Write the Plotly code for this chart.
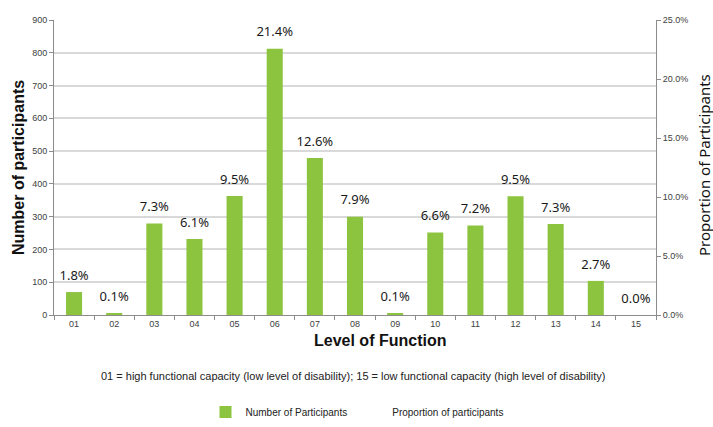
import plotly.graph_objects as go

levels = ["01", "02", "03", "04", "05", "06", "07", "08", "09", "10", "11", "12", "13", "14", "15"]
participants = [70, 4, 279, 232, 363, 812, 479, 300, 4, 252, 273, 362, 278, 104, 0]
proportion = [1.8, 0.1, 7.3, 6.1, 9.5, 21.4, 12.6, 7.9, 0.1, 6.6, 7.2, 9.5, 7.3, 2.7, 0.0]

bar_color = "#8CC43F"
grid_color = "#D9D9D9"
axis_color = "#8C8C8C"
tick_font = dict(family="Liberation Sans, Arial", size=9, color="#404040")

plot_l, plot_r, plot_t, plot_b = 54, 656, 20, 315
W, H = 713, 427


def px_to_paper(px, py):
    return (px - plot_l) / (plot_r - plot_l), (plot_b - py) / (plot_b - plot_t)


fig = go.Figure()
fig.add_trace(go.Bar(
    x=levels, y=participants, name="Number of Participants",
    marker=dict(color=bar_color, line=dict(width=0)),
    hoverinfo="x+y",
))
fig.add_trace(go.Scatter(
    x=levels, y=proportion, name="Proportion of participants",
    yaxis="y2", mode="lines",
    line=dict(color="rgba(0,0,0,0)", width=0),
    hoverinfo="skip",
))
# percentage labels above bars
fig.add_trace(go.Scatter(
    x=levels, y=participants, mode="markers+text",
    marker=dict(size=13, opacity=0, color=bar_color),
    text=[f"{p:.1f}%" for p in proportion],
    textposition="top center",
    textfont=dict(family="Noto Sans", size=13, color="#1a1a1a"),
    showlegend=False, hoverinfo="skip", cliponaxis=False,
))

fig.update_layout(
    width=W, height=H,
    margin=dict(l=plot_l, r=W - plot_r, t=plot_t, b=H - plot_b, autoexpand=False),
    plot_bgcolor="white", paper_bgcolor="white",
    bargap=0.6,
    showlegend=True,
    legend=dict(orientation="h", xanchor="center", yanchor="middle",
                font=dict(family="Liberation Sans, Arial", size=10, color="#222222"),
                itemwidth=30, traceorder="normal"),
    xaxis=dict(
        type="category", range=[-0.5, len(levels) - 0.5],
        tickson="boundaries", ticks="outside", ticklen=4,
        tickcolor=axis_color, showline=True, linecolor=axis_color, linewidth=1,
        showgrid=False, tickfont=tick_font, automargin=False,
    ),
    yaxis=dict(
        range=[0, 900], dtick=100, ticks="outside", ticklen=4, tickcolor=axis_color,
        showline=True, linecolor=axis_color, linewidth=1,
        gridcolor=grid_color, gridwidth=1.5, tickfont=tick_font, zeroline=False,
        automargin=False,
    ),
    yaxis2=dict(
        range=[0, 25], dtick=5, overlaying="y", side="right",
        ticksuffix="%", tickformat=".1f", ticks="outside", ticklen=4, tickcolor=axis_color,
        showline=True, linecolor=axis_color, linewidth=1, showgrid=False, zeroline=False,
        tickfont=tick_font, automargin=False,
    ),
)

lx, ly = px_to_paper(357, 412)
fig.update_layout(legend=dict(x=lx, y=ly))

def add_text(text, px, py, font, angle=0):
    x, y = px_to_paper(px, py)
    fig.add_annotation(text=text, x=x, y=y, xref="paper", yref="paper",
                       xanchor="center", yanchor="middle", showarrow=False,
                       textangle=angle, font=font)

add_text("<b>Level of Function</b>", 380, 340,
         dict(family="Liberation Sans, Arial", size=16, color="#111111"))
add_text("01 = high functional capacity (low level of disability); 15 = low functional capacity (high level of disability)",
         353, 376, dict(family="Liberation Sans, Arial", size=11, color="#222222"))
add_text("<b>Number of participants</b>", 18, 168,
         dict(family="Liberation Sans, Arial", size=16, color="#111111"), -90)
add_text("Proportion of Participants", 704, 165,
         dict(family="Noto Sans", size=15, color="#111111"), -90)

fig.write_html("out.html", config={"displayModeBar": False},
               post_script="document.body.style.margin='0px';")
